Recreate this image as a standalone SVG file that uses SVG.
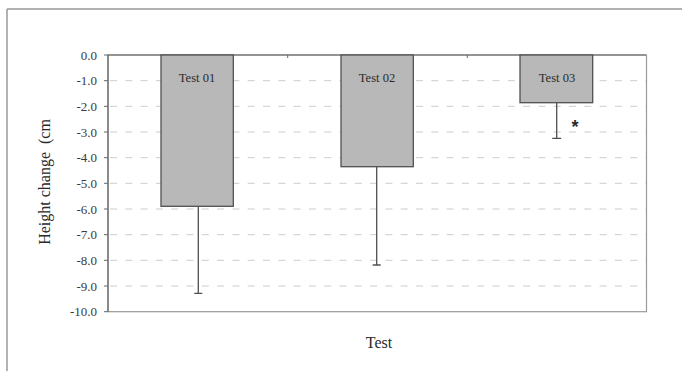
<svg xmlns="http://www.w3.org/2000/svg" width="682" height="371" viewBox="0 0 682 371">
<style>
.tick{font-family:"Liberation Serif",serif;font-size:13px;fill:#3a3a3a;text-anchor:end}
.bl{font-family:"Liberation Serif",serif;font-size:12.5px;fill:#2a2a2a;text-anchor:middle}
.title{font-family:"Liberation Serif",serif;font-size:16px;fill:#2a2a2a;text-anchor:middle;white-space:pre}
.grid{stroke:#cccccc;stroke-width:1;stroke-dasharray:7 8.3}
.bar{fill:#b8b8b8;stroke:#505050;stroke-width:1.3}
.err{stroke:#505050;stroke-width:1.3;fill:none}
</style>
<rect width="682" height="371" fill="#fff"/>
<g id="frame">
<path d="M7,9 H682 M7,9 V371" stroke="#999" stroke-width="1.5" fill="none"/>
</g>
<g id="grid">
<line class="grid" x1="110" y1="80.7" x2="646" y2="80.7"/>
<line class="grid" x1="110" y1="106.3" x2="646" y2="106.3"/>
<line class="grid" x1="110" y1="132" x2="646" y2="132"/>
<line class="grid" x1="110" y1="157.7" x2="646" y2="157.7"/>
<line class="grid" x1="110" y1="183.3" x2="646" y2="183.3"/>
<line class="grid" x1="110" y1="209" x2="646" y2="209"/>
<line class="grid" x1="110" y1="234.7" x2="646" y2="234.7"/>
<line class="grid" x1="110" y1="260.3" x2="646" y2="260.3"/>
<line class="grid" x1="110" y1="286" x2="646" y2="286"/>
</g>
<g id="axes">
<rect x="108" y="55" width="538.5" height="256.7" fill="none" stroke="#999" stroke-width="1.2"/>
<path d="M108,55 H646 M108,55 V311.7" stroke="#666" stroke-width="1.2" fill="none"/>
<path d="M104,55 H108 M104,80.7 H108 M104,106.3 H108 M104,132 H108 M104,157.7 H108 M104,183.3 H108 M104,209 H108 M104,234.7 H108 M104,260.3 H108 M104,286 H108 M104,311.7 H108 M287.7,55 V58 M467.3,55 V58" stroke="#666" stroke-width="1"/>
</g>
<g id="yticks">
<text class="tick" x="97" y="59.5">0.0</text>
<text class="tick" x="97" y="85.2">-1.0</text>
<text class="tick" x="97" y="110.8">-2.0</text>
<text class="tick" x="97" y="136.5">-3.0</text>
<text class="tick" x="97" y="162.2">-4.0</text>
<text class="tick" x="97" y="187.8">-5.0</text>
<text class="tick" x="97" y="213.5">-6.0</text>
<text class="tick" x="97" y="239.2">-7.0</text>
<text class="tick" x="97" y="264.8">-8.0</text>
<text class="tick" x="97" y="290.5">-9.0</text>
<text class="tick" x="97" y="316.2">-10.0</text>
</g>
<g id="bar1">
<rect class="bar" x="161" y="55" width="72.3" height="151.3"/>
<path class="err" d="M198.3,206.3 V293.3 M194.3,293.3 H202.3"/>
<text class="bl" x="197" y="82">Test 01</text>
</g>
<g id="bar2">
<rect class="bar" x="341" y="55" width="72.3" height="111.7"/>
<path class="err" d="M376.7,166.7 V265 M372.7,265 H380.7"/>
<text class="bl" x="377" y="82">Test 02</text>
</g>
<g id="bar3">
<rect class="bar" x="520" y="55" width="72.7" height="47.7"/>
<path class="err" d="M556.7,102.7 V138.3 M552.2,138.3 H561.2"/>
<text class="bl" x="557" y="82">Test 03</text>
<text x="575" y="133" font-family="Liberation Sans,sans-serif" font-size="18" font-weight="bold" fill="#2a2a2a" text-anchor="middle">*</text>
</g>
<g id="titles">
<text class="title" transform="translate(50,182) rotate(-90)" xml:space="preserve">Height change  (cm</text>
<text class="title" x="379" y="348">Test</text>
</g>
</svg>
